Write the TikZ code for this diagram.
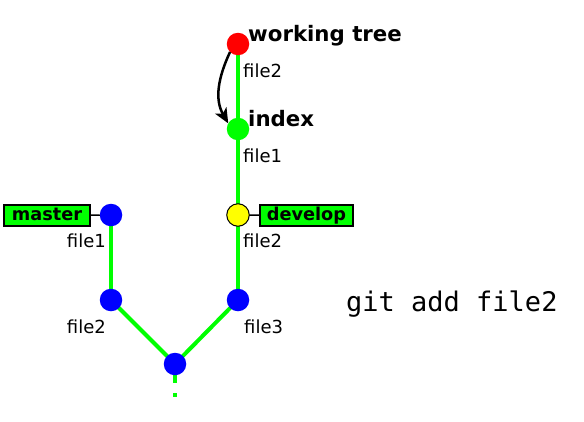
\documentclass[tikz,border=0pt]{standalone}
\usepackage{fontspec}
\setmainfont{DejaVu Sans}
\setmonofont{DejaVu Sans Mono}
\usepackage{tikz}
\usetikzlibrary{arrows.meta,backgrounds}
\definecolor{branchgreen}{RGB}{0,255,0}
\definecolor{commitblue}{RGB}{0,0,255}
\definecolor{headyellow}{RGB}{255,255,0}
\definecolor{treered}{RGB}{255,0,0}

\begin{document}
\begin{tikzpicture}[x=1pt,y=-1pt,
  commit/.style={circle, fill=commitblue, minimum size=22.5pt, inner sep=0pt, outer sep=0pt},
  branch/.style={draw=branchgreen, line width=4pt},
  tagbox/.style={draw=black, fill=branchgreen, line width=1.5pt, inner sep=0pt, minimum height=21pt, text height=12pt, text depth=3pt, font=\fontsize{17.7}{20}\selectfont\bfseries},
  title/.style={font=\fontsize{21.3}{24}\selectfont\bfseries, inner sep=0pt},
  lbl/.style={font=\fontsize{18}{20}\selectfont, inner sep=0pt}]
  \useasboundingbox (0,0) rectangle (584,421);
  % commits
  \coordinate (tail) at (175,397);
  \node[commit, fill=treered] (wt) at (238,44) {};
  \node[commit, fill=branchgreen] (idx) at (238,129) {};
  \node[commit, fill=headyellow, draw=black, line width=1pt] (dev) at (238,215) {};
  \node[commit] (c3) at (238,300) {};
  \node[commit] (mst) at (111,215) {};
  \node[commit] (c2) at (111,300) {};
  \node[commit] (base) at (175,364) {};
  % history lines behind the commits
  \begin{scope}[on background layer]
  \draw[branch] (wt.center) -- (idx.center);
  \draw[branch] (idx.center) -- (dev.center);
  \draw[branch] (dev.center) -- (c3.center);
  \draw[branch] (c3.center) -- (base.center);
  \draw[branch] (mst.center) -- (c2.center);
  \draw[branch] (c2.center) -- (base.center);
  \draw[branch, dash pattern=on 19pt off 10pt] (base.center) -- (tail);
  \end{scope}
  % branch tags
  \node[tagbox, minimum width=86pt] (tmaster) at (47,215.5) {master};
  \node[tagbox, minimum width=93pt] (tdevelop) at (306.5,215.5) {develop};
  \draw[line width=1.5pt] (tmaster) -- (mst);
  \draw[line width=1.5pt] (dev) -- (tdevelop);
  % titles
  \node[title, anchor=base west] (twt) at (248,41) {working tree};
  \node[title, anchor=base west] (tidx) at (248,126) {index};
  % file labels
  \node[lbl, anchor=base west] (f1) at (243,77) {file2};
  \node[lbl, anchor=base west] (f2) at (243,162) {file1};
  \node[lbl, anchor=base west] (f3) at (243,247) {file2};
  \node[lbl, anchor=base west] (f4) at (244,333) {file3};
  \node[lbl, anchor=base east] (f5) at (106,247) {file1};
  \node[lbl, anchor=base east] (f6) at (106,333) {file2};
  % command
  \node[font=\ttfamily\fontsize{27}{30}\selectfont, inner sep=0pt, anchor=base west] (cmd) at (346,311) {git add file2};
  % staging arrow
  \draw[-{Stealth[length=15pt,width=13pt,inset=4pt]}, line width=2.5pt] (wt.-135) to[out=-115, in=120] (idx.150);
\end{tikzpicture}
\end{document}
